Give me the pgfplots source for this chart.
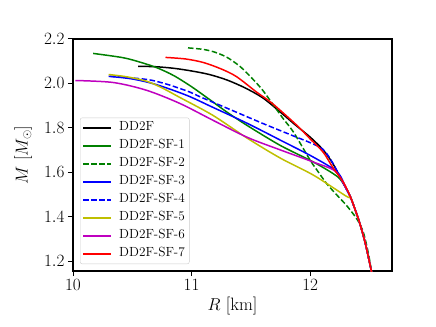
\documentclass[border=0pt]{standalone}
\usepackage{pgfplots}
\pgfplotsset{compat=1.18}
\definecolor{mplgreen}{rgb}{0,0.5,0}
\definecolor{mplyellow}{rgb}{0.75,0.75,0}
\definecolor{mplmagenta}{rgb}{0.75,0,0.75}
\begin{document}
\begin{tikzpicture}
\begin{axis}[name=ax, scale only axis, width=319bp, height=232bp,
  xmin=10, xmax=12.69, ymin=1.155, ymax=2.2,
  xtick={10,11,12}, ytick={1.2,1.4,1.6,1.8,2.0,2.2},
  tick pos=left, tick align=outside, major tick length=5bp,
  every tick/.style={black, line width=1pt},
  axis line style={line width=1.3pt},
  ticklabel style={font=\fontsize{17}{20}\selectfont},
  yticklabel style={/pgf/number format/.cd, fixed, fixed zerofill, precision=1},
  label style={font=\fontsize{18}{21}\selectfont},
  xlabel={$R$ [km]}, ylabel={$M$ [$M_\odot$]},
  ylabel style={yshift=5bp},
  legend cell align=left,
  legend image code/.code={\draw[line width=1.5pt,#1] (0bp,0bp) -- (28bp,0bp); \path (33bp,0bp);},
  legend style={at={(rel axis cs:0.022,0.03)}, anchor=south west,
    draw=black!20, rounded corners=2bp, fill=white, fill opacity=0.8,
    text opacity=1, inner sep=2.5bp, row sep=3bp,
    font=\fontsize{13.3}{16}\selectfont,
    nodes={text height=8.5bp, text depth=2.5bp, inner sep=2bp}},
  every axis plot/.append style={line width=1.5pt},
]
% DD2F
\addplot[black, smooth] coordinates {
 (10.55,2.077) (10.70,2.075) (10.85,2.068) (11.00,2.056) (11.15,2.040)
 (11.30,2.015) (11.45,1.980) (11.60,1.935) (11.75,1.870) (11.87,1.815)
 (12.00,1.758) (12.11,1.700) (12.19,1.640) (12.26,1.570) (12.30,1.530)
 (12.34,1.488) (12.38,1.430) (12.41,1.384) (12.44,1.330) (12.465,1.280)
 (12.49,1.220) (12.51,1.170) (12.53,1.120)};
\addlegendentry{DD2F}
% SF-1
\addplot[mplgreen, smooth] coordinates {
 (10.17,2.135) (10.42,2.116) (10.57,2.095) (10.71,2.070)
 (10.85,2.035) (11.00,1.985) (11.15,1.928) (11.30,1.870) (11.47,1.810)
 (11.75,1.720) (12.03,1.645) (12.23,1.580) (12.30,1.530)
 (12.34,1.488) (12.38,1.430) (12.41,1.384) (12.44,1.330) (12.465,1.280)
 (12.49,1.220) (12.51,1.170) (12.53,1.120)};
\addlegendentry{DD2F-SF-1}
% SF-2
\addplot[mplgreen, smooth, dash pattern=on 5.5bp off 2.5bp] coordinates {
 (10.97,2.160) (11.10,2.153) (11.20,2.140) (11.30,2.117) (11.40,2.080)
 (11.47,2.045) (11.55,2.000) (11.60,1.969) (11.66,1.925) (11.77,1.843)
 (11.86,1.780) (12.00,1.654) (12.07,1.600) (12.14,1.548) (12.22,1.500)
 (12.31,1.448) (12.40,1.384) (12.45,1.326) (12.49,1.236) (12.515,1.160)
 (12.525,1.120)};
\addlegendentry{DD2F-SF-2}
% SF-3
\addplot[blue, smooth] coordinates {
 (10.30,2.032) (10.50,2.020) (10.70,1.995) (10.96,1.946) (11.18,1.892)
 (11.47,1.820) (11.75,1.744) (12.03,1.667) (12.23,1.600) (12.30,1.530)
 (12.34,1.488) (12.38,1.430) (12.41,1.384) (12.44,1.330) (12.465,1.280)
 (12.49,1.220) (12.51,1.170) (12.53,1.120)};
\addlegendentry{DD2F-SF-3}
% SF-4
\addplot[blue, smooth, dash pattern=on 5.5bp off 2.5bp] coordinates {
 (10.31,2.032) (10.62,2.018) (10.80,1.995) (10.99,1.960) (11.07,1.940)
 (11.30,1.888) (11.59,1.822) (11.75,1.787) (11.86,1.763) (12.00,1.733)
 (12.11,1.702) (12.19,1.642) (12.26,1.570) (12.30,1.530)
 (12.34,1.488) (12.38,1.430) (12.41,1.384) (12.44,1.330) (12.465,1.280)
 (12.49,1.220) (12.51,1.170) (12.53,1.120)};
\addlegendentry{DD2F-SF-4}
% SF-5
\addplot[mplyellow, smooth] coordinates {
 (10.30,2.040) (10.45,2.030) (10.62,2.010) (10.75,1.980) (10.90,1.937)
 (11.18,1.856) (11.47,1.753) (11.75,1.663) (12.03,1.586) (12.31,1.490)
 (12.34,1.488) (12.38,1.430) (12.41,1.384) (12.44,1.330) (12.465,1.280)
 (12.49,1.220) (12.51,1.170) (12.53,1.120)};
\addlegendentry{DD2F-SF-5}
% SF-6
\addplot[mplmagenta, smooth] coordinates {
 (10.02,2.013) (10.34,2.004) (10.62,1.969) (10.90,1.910) (11.18,1.834)
 (11.47,1.757) (11.75,1.700) (12.03,1.645) (12.21,1.605) (12.30,1.530)
 (12.34,1.488) (12.38,1.430) (12.41,1.384) (12.44,1.330) (12.465,1.280)
 (12.49,1.220) (12.51,1.170) (12.53,1.120)};
\addlegendentry{DD2F-SF-6}
% SF-7
\addplot[red, smooth] coordinates {
 (10.78,2.117) (10.95,2.110) (11.10,2.094) (11.25,2.065) (11.38,2.030)
 (11.55,1.960) (11.68,1.910) (11.89,1.810) (12.00,1.750) (12.11,1.690)
 (12.19,1.622) (12.28,1.555) (12.34,1.488) (12.38,1.430) (12.41,1.384)
 (12.44,1.330) (12.465,1.280) (12.49,1.220) (12.51,1.170) (12.53,1.120)};
\addlegendentry{DD2F-SF-7}
\end{axis}
\useasboundingbox ([xshift=-73bp,yshift=-56bp]ax.south west) rectangle ([xshift=44bp,yshift=39bp]ax.north east);
\end{tikzpicture}
\end{document}
